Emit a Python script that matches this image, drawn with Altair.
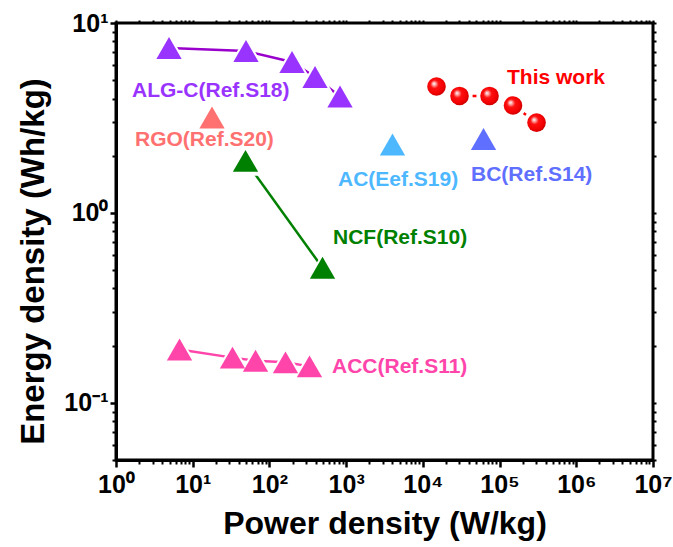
import altair as alt
import pandas as pd

# ---------------- data ----------------
alg_x = [4.91, 49.5, 197, 393, 832]
alg_y = [7.39, 7.12, 6.23, 5.20, 4.10]
rgo_x = [17.85]
rgo_y = [3.18]
ncf_x = [48.8, 492]
ncf_y = [1.88, 0.514]
ac_x = [4020]
ac_y = [2.29]
bc_x = [61800]
bc_y = [2.45]
acc_x = [6.73, 33.0, 65.9, 162, 333]
acc_y = [0.191, 0.173, 0.1665, 0.1634, 0.1556]
tw_x = [15070, 30060, 73960, 149700, 303400]
tw_y = [4.63, 4.13, 4.13, 3.68, 2.99]

label_text = ["ALG-C(Ref.S18)", "RGO(Ref.S20)", "NCF(Ref.S10)", "AC(Eef.S19)",
              "BC(Ref.S14)", "ACC(Ref.S11)", "This work"]
label_x = [1.617, 1.769, 674, 783, 42400, 654, 125000]
label_y = [4.385, 2.422, 0.739, 1.492, 1.585, 0.1547, 5.135]

x_major = [1, 10, 100, 1e3, 1e4, 1e5, 1e6, 1e7]
y_major = [0.1, 1, 10]

# ---------------- styles ----------------
marker_color = {"ALG-C": "#9933ff", "RGO": "#ff7070", "NCF": "#008000",
                "AC": "#4db8ff", "BC": "#5f6fff", "ACC": "#ff44aa", "This work": "#ff0000"}
line_color = {"ALG-C": "#9900cc", "NCF": "#008000", "ACC": "#ff44aa", "This work": "#ff0000"}
label_series = ["ALG-C", "RGO", "NCF", "AC", "BC", "ACC", "This work"]
FONT = "Liberation Sans"

tri_series = {"ALG-C": (alg_x, alg_y), "RGO": (rgo_x, rgo_y), "NCF": (ncf_x, ncf_y),
              "AC": (ac_x, ac_y), "BC": (bc_x, bc_y), "ACC": (acc_x, acc_y)}

rows = []
for name, (xs, ys) in tri_series.items():
    for a, b in zip(xs, ys):
        rows.append({"series": name, "x": a, "y": b, "mc": marker_color[name]})
df_tri = pd.DataFrame(rows)
df_tw = pd.DataFrame({"series": "This work", "x": tw_x, "y": tw_y})

line_rows = []
for name in line_color:
    xs, ys = (tw_x, tw_y) if name == "This work" else tri_series[name]
    for i, (a, b) in enumerate(zip(xs, ys)):
        line_rows.append({"series": name, "x": a, "y": b, "o": i, "lc": line_color[name]})
df_line = pd.DataFrame(line_rows)

df_lab = pd.DataFrame({"text": label_text, "x": label_x, "y": label_y,
                       "c": [marker_color[s] for s in label_series]})

x_minor = [k * 10 ** d for d in range(0, 7) for k in range(2, 10)]
y_minor = [k * 10.0 ** d for d in range(-2, 1) for k in range(2, 10) if 0.05 <= k * 10.0 ** d <= 10]

xs_scale = alt.Scale(type="log", domain=[1, 1e7], nice=False)
ys_scale = alt.Scale(type="log", domain=[0.05, 10], nice=False)

sup = "['⁰','¹','²','³','⁴','⁵','⁶','⁷']"
x_label_expr = "'10' + " + sup + "[round(log(datum.value)/LN10)]"
y_label_expr = "datum.value < 0.5 ? '10⁻¹' : (datum.value < 5 ? '10⁰' : '10¹')"

x_axis_major = alt.Axis(orient="bottom", values=x_major, labelExpr=x_label_expr,
                        tickSize=7, tickWidth=2.5, tickColor="black",
                        domainWidth=3, domainColor="black",
                        labelFont=FONT, labelFontWeight="bold", labelFontSize=25,
                        labelColor="black", labelPadding=5, labelFlush=False,
                        labelOverlap=False,
                        title="Power density (W/kg)", titleFont=FONT,
                        titleFontSize=32, titleFontWeight="bold", titleColor="black",
                        titleBaseline="alphabetic", titleY=73, grid=False)
y_axis_major = alt.Axis(orient="left", values=y_major, labelExpr=y_label_expr,
                        tickSize=6, tickWidth=2.5, tickColor="black",
                        domainWidth=3, domainColor="black",
                        labelFont=FONT, labelFontWeight="bold", labelFontSize=25,
                        labelColor="black", labelPadding=2, labelFlush=False,
                        labelOverlap=False,
                        title="Energy density (Wh/kg)", titleFont=FONT,
                        titleFontSize=33, titleFontWeight="bold", titleColor="black",
                        titleAngle=270, titleAlign="center", titleBaseline="alphabetic",
                        titleX=-73, titleY=238, grid=False)

base_lines = alt.Chart(df_line).mark_line(strokeWidth=2.5).encode(
    x=alt.X("x:Q", scale=xs_scale, axis=x_axis_major),
    y=alt.Y("y:Q", scale=ys_scale, axis=y_axis_major),
    color=alt.Color("lc:N", scale=None),
    detail="series:N",
    order="o:Q",
)

minor_layer = alt.Chart(df_tw).mark_point(opacity=0).encode(
    x=alt.X("x:Q", scale=xs_scale,
            axis=alt.Axis(orient="bottom", values=x_minor, labels=False, domain=False,
                          tickSize=4, tickWidth=2, tickColor="black", title=None, grid=False)),
    y=alt.Y("y:Q", scale=ys_scale,
            axis=alt.Axis(orient="left", values=y_minor, labels=False, domain=False,
                          tickSize=4, tickWidth=2, tickColor="black", title=None, grid=False)),
)

mirror_layer = alt.Chart(df_tw).mark_point(opacity=0).encode(
    x=alt.X("x:Q", scale=xs_scale,
            axis=alt.Axis(orient="top", values=x_minor + x_major, labels=False, domain=False,
                          tickSize=3, tickWidth=2, tickColor="black", title=None, grid=False)),
    y=alt.Y("y:Q", scale=ys_scale,
            axis=alt.Axis(orient="right", values=y_minor + y_major, labels=False, domain=False,
                          tickSize=3, tickWidth=2, tickColor="black", title=None, grid=False)),
)

# white halos: leave a gap in connecting lines around each symbol
tri_halo = alt.Chart(df_tri).mark_point(shape="triangle-up", filled=True, size=1200,
                                         opacity=1, color="white").encode(
    x=alt.X("x:Q", scale=xs_scale, axis=None),
    y=alt.Y("y:Q", scale=ys_scale, axis=None),
)
sphere_halo = alt.Chart(df_tw).mark_point(shape="circle", filled=True, size=690,
                                           opacity=1, color="white").encode(
    x=alt.X("x:Q", scale=xs_scale, axis=None),
    y=alt.Y("y:Q", scale=ys_scale, axis=None),
)

triangles = alt.Chart(df_tri).mark_point(shape="triangle-up", filled=True, size=640,
                                          opacity=1).encode(
    x=alt.X("x:Q", scale=xs_scale, axis=None),
    y=alt.Y("y:Q", scale=ys_scale, axis=None),
    color=alt.Color("mc:N", scale=None),
)

sphere_fill = {
    "gradient": "radial",
    "x1": 0.36, "y1": 0.34, "r1": 0.0,
    "x2": 0.45, "y2": 0.45, "r2": 0.58,
    "stops": [
        {"offset": 0.0, "color": "#ffffff"},
        {"offset": 0.14, "color": "#ffb0b0"},
        {"offset": 0.38, "color": "#ff1010"},
        {"offset": 0.8, "color": "#f00000"},
        {"offset": 1.0, "color": "#c00000"},
    ],
}

spheres = alt.Chart(df_tw).mark_point(shape="circle", filled=True, size=346, opacity=1,
                                       fill=sphere_fill, strokeWidth=0).encode(
    x=alt.X("x:Q", scale=xs_scale, axis=None),
    y=alt.Y("y:Q", scale=ys_scale, axis=None),
)

labels = alt.Chart(df_lab).mark_text(align="left", baseline="middle", font=FONT,
                                     fontSize=21, fontWeight="bold").encode(
    x=alt.X("x:Q", scale=xs_scale, axis=None),
    y=alt.Y("y:Q", scale=ys_scale, axis=None),
    text="text:N",
    color=alt.Color("c:N", scale=None),
)

chart = alt.layer(base_lines, minor_layer, mirror_layer, tri_halo, sphere_halo,
                  triangles, spheres, labels).resolve_axis(
    x="independent", y="independent"
).properties(
    width=537, height=437,
    autosize=alt.AutoSizeParams(type="none"),
    padding={"left": 116, "top": 23, "right": 20, "bottom": 87},
    background="white",
).configure_view(stroke="black", strokeWidth=3)

chart.save("out.html", embed_options={"renderer": "svg", "actions": False})
